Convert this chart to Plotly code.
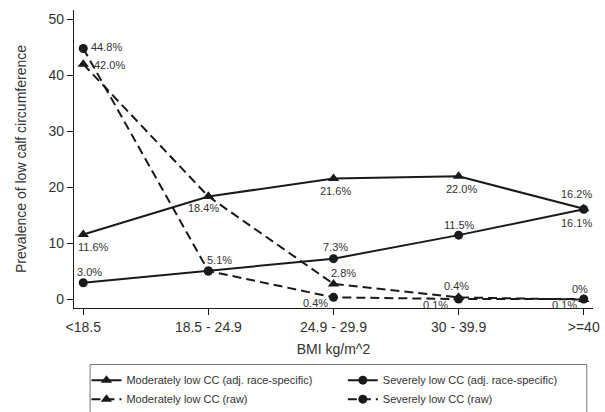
import plotly.graph_objects as go

categories = ["<18.5", "18.5 - 24.9", "24.9 - 29.9", "30 - 39.9", ">=40"]
mod_adj = [11.6, 18.4, 21.6, 22.0, 16.2]
sev_adj = [3.0, 5.1, 7.3, 11.5, 16.1]
mod_raw = [42.0, 18.4, 2.8, 0.4, 0.0]
sev_raw = [44.8, 5.1, 0.4, 0.1, 0.1]
mod_raw_labels = ["42.0%", "18.4%", "2.8%", "0.4%", "0%"]
series_names = [
    "Moderately low CC (adj. race-specific)",
    "Severely low CC (adj. race-specific)",
    "Moderately low CC (raw)",
    "Severely low CC (raw)",
]
y_ticks = [0, 10, 20, 30, 40, 50]

def fmt(v):
    return f"{v:.1f}%"

INK = "#1a1a1a"
TXT = "#333333"
FONT = "Liberation Sans, Arial, sans-serif"

fig = go.Figure()
styles = [
    (mod_adj, "triangle-up", "solid", 10, "legend"),
    (sev_adj, "circle", "solid", 9, "legend2"),
    (mod_raw, "triangle-up", "9px,5px", 10, "legend"),
    (sev_raw, "circle", "9px,5px", 9, "legend2"),
]
for name, (vals, sym, dash, ms, lg) in zip(series_names, styles):
    fig.add_trace(go.Scatter(
        x=categories, y=vals, mode="lines+markers", name=name,
        line=dict(color=INK, width=2, dash=dash),
        marker=dict(symbol=sym, size=ms, color=INK),
        legend=lg,
    ))

# label offsets (xshift, yshift) in px for each series/point
offsets = {
    0: [(10, -12), (-5, -12), (2, -12), (3, -13), (-7, 15)],
    1: [(6, 11), (11, 11), (2, 12), (1, 10), (-7, -14)],
    2: [(26, -1), (0, 0), (10, 11), (-2, 11), (-4, 11)],
    3: [(23, 1), (0, 0), (-18, -6), (-23, -6), (-19, -6)],
}
label_texts = {
    0: [fmt(v) for v in mod_adj],
    1: [fmt(v) for v in sev_adj],
    2: mod_raw_labels,
    3: [fmt(v) for v in sev_raw],
}
series_vals = [mod_adj, sev_adj, mod_raw, sev_raw]
for si, vals in enumerate(series_vals):
    for i, (c, v) in enumerate(zip(categories, vals)):
        if si >= 2 and i == 1:
            continue  # shared point with adjusted series, labelled once
        dx, dy = offsets[si][i]
        fig.add_annotation(
            x=c, y=v, text=label_texts[si][i], showarrow=False,
            xshift=dx, yshift=dy,
            font=dict(family=FONT, size=11, color=TXT),
        )

leg_common = dict(
    orientation="v", xanchor="left", yanchor="top",
    yref="container", y=0.1125,
    font=dict(size=11, color=TXT), bgcolor="rgba(0,0,0,0)",
    borderwidth=0, tracegroupgap=0, traceorder="normal",
)
fig.update_layout(
    width=605, height=412,
    margin=dict(l=74, r=12, t=10, b=104, autoexpand=False),
    plot_bgcolor="white", paper_bgcolor="white",
    font=dict(family=FONT, size=14, color=TXT),
    showlegend=True,
    legend=dict(x=0.024, **leg_common),
    legend2=dict(x=0.518, **leg_common),
)
# legend frame
fig.add_shape(
    type="rect", xref="paper", yref="paper",
    x0=0.031, x1=0.988, y0=-0.1896, y1=-0.40,
    line=dict(color="#777777", width=1), fillcolor="rgba(0,0,0,0)",
    layer="below",
)
fig.update_xaxes(
    type="category", categoryorder="array", categoryarray=categories,
    range=[-0.074, 4.074],
    showline=True, linecolor=INK, linewidth=1.3, mirror=False,
    ticks="outside", ticklen=6, tickcolor=INK, tickwidth=1.3,
    showgrid=False, zeroline=False, automargin=False,
    tickfont=dict(size=14, color=TXT),
    title=dict(text="BMI kg/m^2", font=dict(size=14, color=TXT), standoff=10),
)
fig.update_yaxes(
    range=[-1.5, 51.66], tickvals=y_ticks,
    showline=True, linecolor=INK, linewidth=1.3,
    ticks="outside", ticklen=6, tickcolor=INK, tickwidth=1.3,
    showgrid=False, zeroline=False, automargin=False,
    tickfont=dict(size=14, color=TXT),
    title=dict(text="Prevalence of low calf circumference", font=dict(size=14, color=TXT), standoff=18),
)

fig.write_html("out.html")
